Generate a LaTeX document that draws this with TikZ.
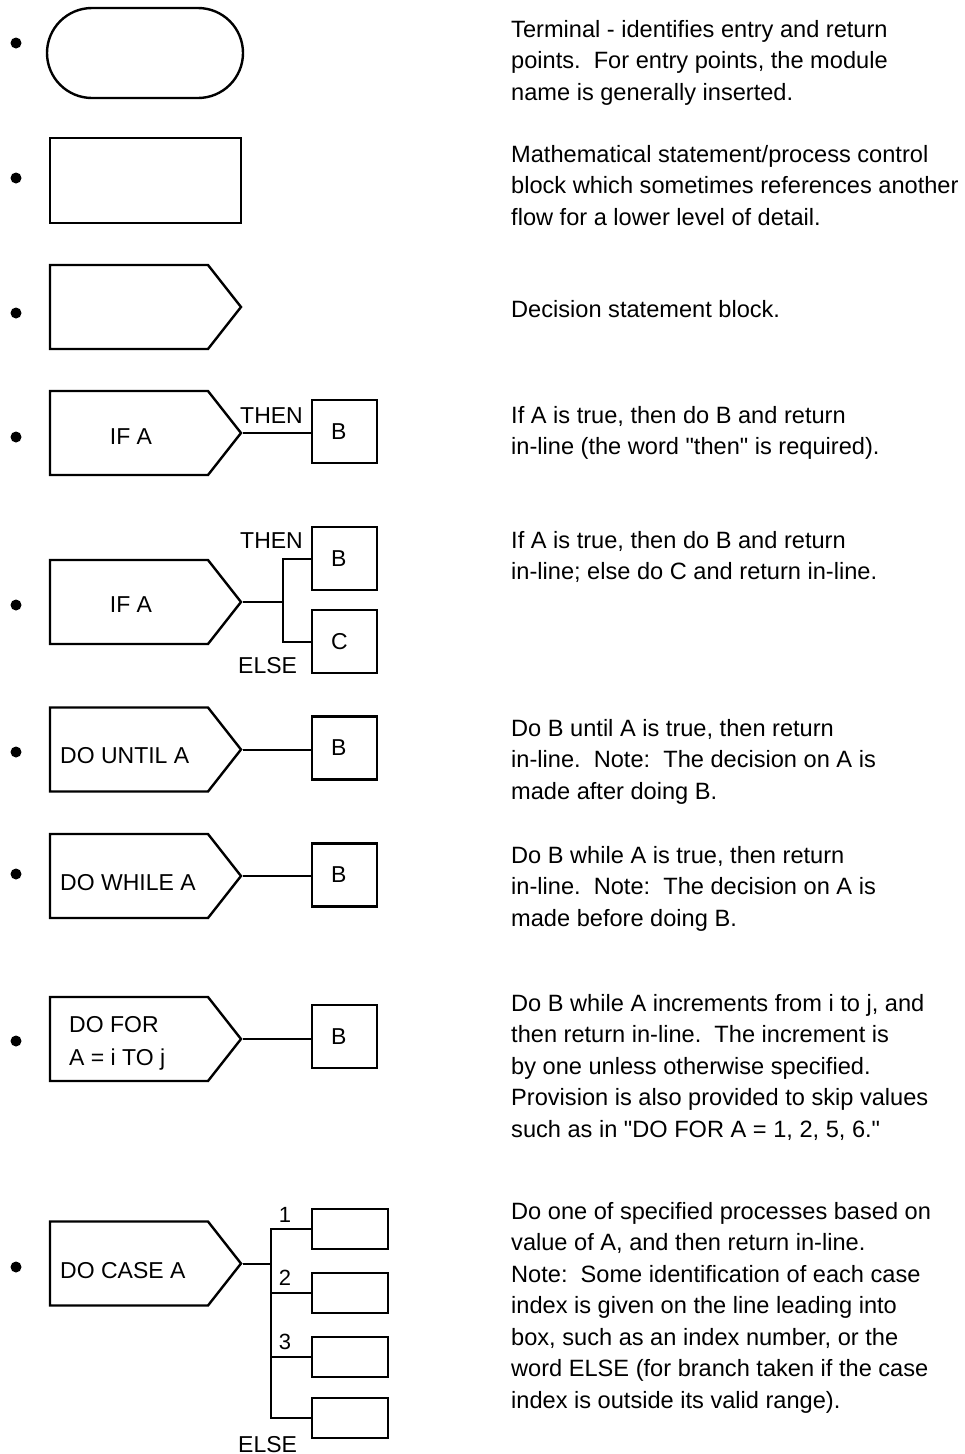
\documentclass[tikz,border=0pt]{standalone}
\usepackage{fontspec}
\setmainfont{Liberation Sans}
\newfontfamily\plainsans{Liberation Sans}
\usetikzlibrary{positioning,shapes.misc,shapes.symbols}

\tikzset{
  blk/.style={draw, line width=2.4pt, inner sep=0pt},
  dec/.style={blk, signal, signal to=east, signal pointer angle=103.7,
    minimum width=191pt, minimum height=84pt},
  sub/.style={blk, minimum width=65pt, minimum height=63pt, inner xsep=19pt,
    text width=27pt, align=left, font=\plainsans\fontsize{23}{26}\selectfont},
  casebox/.style={blk, minimum width=76pt, minimum height=40pt},
  lnk/.style={line width=2pt},
  lbl/.style={inner sep=0pt, font=\plainsans\fontsize{23}{33}\selectfont},
  num/.style={inner sep=0pt, font=\plainsans\fontsize{22}{26}\selectfont},
  desc/.style={inner sep=0pt, anchor=north west, align=left,
    font=\plainsans\frenchspacing\fontsize{23.6}{31.5}\selectfont},
  bul/.style={circle, fill, inner sep=0pt, minimum size=11pt}
}

\begin{document}
\begin{tikzpicture}[x=1pt, y=-1pt]
    \useasboundingbox (0,0) rectangle (964,1454);

    % Bullets
    \foreach \y [count=\i] in {43,178,313,437,605,752,874,1041,1267}
        \node[bul] (dot\i) at (16,\y) {};

    % Terminal, process and decision blocks
    \node[blk, rounded rectangle, minimum width=196pt, minimum height=90pt] (t1) at (145,53) {};
    \node[blk, rectangle, minimum width=191pt, minimum height=85pt] (p2) at (145.5,180.5) {};
    \node[dec] (d3) at (129,307) {};

    % IF A THEN B
    \node[dec] (d4) at (129,433) {};
    \node[lbl] (if4) at (131,437) {IF A};
    \node[sub] (b4) at (344.5,431.5) {B};
    \draw[lnk] (d4.east) -- (d4.east -| b4.west);
    \node[lbl, anchor=base west] (then4) at (240,423) {THEN};

    % IF A THEN B ELSE C
    \node[dec] (d5) at (129,602) {};
    \node[lbl] (if5) at (131,605) {IF A};
    \node[sub] (b5) at (344.5,558.5) {B};
    \node[sub] (c5) at (344.5,641.5) {C};
    \coordinate (j5) at (283,602);
    \draw[lnk] (d5.east) -- (j5);
    \draw[lnk] (b5.west) -| (j5) |- (c5.west);
    \node[lbl, anchor=base west] (then5) at (240,548) {THEN};
    \node[lbl, anchor=base west] (else5) at (238,673) {ELSE};

    % DO UNTIL / DO WHILE / DO FOR
    \node[dec] (d6) at (129,749.5) {};
    \node[lbl, anchor=base west] (do6) at (60,763) {DO UNTIL A};
    \node[sub] (b6) at (344.5,748) {B};
    \draw[lnk] (d6.east) -- (d6.east -| b6.west);

    \node[dec] (d7) at (129,876) {};
    \node[lbl, anchor=base west] (do7) at (60,890) {DO WHILE A};
    \node[sub] (b7) at (344.5,875) {B};
    \draw[lnk] (d7.east) -- (d7.east -| b7.west);

    \node[dec] (d8) at (129,1039) {};
    \node[lbl, anchor=north west, align=left] (do8) at (69,1016) {DO FOR\\A = i TO j};
    \node[sub] (b8) at (344.5,1036.5) {B};
    \draw[lnk] (d8.east) -- (d8.east -| b8.west);

    % DO CASE
    \node[dec] (d9) at (129,1263.5) {};
    \node[lbl, anchor=base west] (do9) at (60,1278) {DO CASE A};
    \foreach \y [count=\k] in {1229,1293,1357,1418}
        \node[casebox] (e\k) at (350,\y) {};
    \coordinate (j9) at (271,1263.5);
    \draw[lnk] (d9.east) -- (j9);
    \draw[lnk] (e1.west) -| (j9) |- (e4.west);
    \draw[lnk] (j9 |- e2.west) -- (e2.west);
    \draw[lnk] (j9 |- e3.west) -- (e3.west);
    \node[num, anchor=base] (n1) at (285,1222) {1};
    \node[num, anchor=base] (n2) at (285,1285) {2};
    \node[num, anchor=base] (n3) at (285,1349) {3};
    \node[lbl, anchor=base west] (else9) at (238,1452) {ELSE};

    % Descriptions
    \node[desc] (txt1) at (511,20) {Terminal - identifies entry and return\\points.~ For entry points, the module\\name is generally inserted.};
    \node[desc] (txt2) at (511,145) {Mathematical statement/process control\\block which sometimes references another\\flow for a lower level of detail.};
    \node[desc] (txt3) at (511,300) {Decision statement block.};
    \node[desc] (txt4) at (511,406) {If A is true, then do B and return\\in-line (the word "then" is required).};
    \node[desc] (txt5) at (511,531) {If A is true, then do B and return\\in-line; else do C and return in-line.};
    \node[desc] (txt6) at (511,719) {Do B until A is true, then return\\in-line.~ Note:~ The decision on A is\\made after doing B.};
    \node[desc] (txt7) at (511,846) {Do B while A is true, then return\\in-line.~ Note:~ The decision on A is\\made before doing B.};
    \node[desc] (txt8) at (511,994) {Do B while A increments from i to j, and\\then return in-line.~ The increment is\\by one unless otherwise specified.\\Provision is also provided to skip values\\such as in "DO FOR A = 1, 2, 5, 6."};
    \node[desc] (txt9) at (511,1202) {Do one of specified processes based on\\value of A, and then return in-line.\\Note:~ Some identification of each case\\index is given on the line leading into\\box, such as an index number, or the\\word ELSE (for branch taken if the case\\index is outside its valid range).};
\end{tikzpicture}
\end{document}
